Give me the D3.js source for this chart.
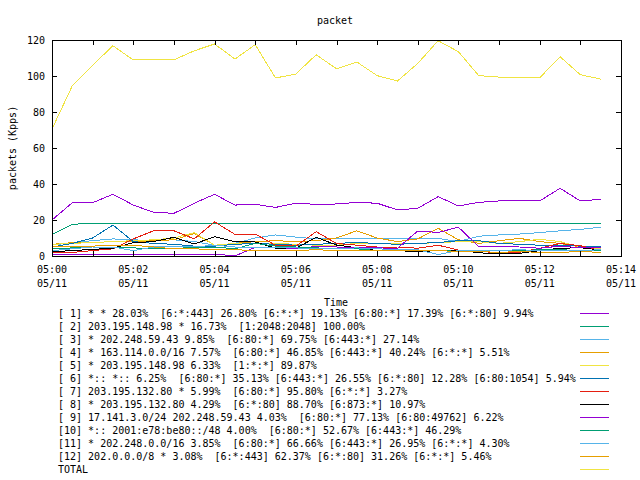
<!DOCTYPE html>
<html>
<head>
<meta charset="utf-8">
<script src="https://cdn.jsdelivr.net/npm/d3@7"></script>
<style>
html,body{margin:0;padding:0;background:#fff;}
svg text{font-family:"DejaVu Sans Mono",monospace;font-size:10px;fill:#000;white-space:pre;}
</style>
</head>
<body>
<svg id="chart" width="640" height="480"></svg>
<script>
const title = "packet";
const xLabel = "Time";
const yLabel = "packets (Kpps)";
const times = ["05:00:00","05:00:30","05:01:00","05:01:30","05:02:00","05:02:30","05:03:00","05:03:30",
  "05:04:00","05:04:30","05:05:00","05:05:30","05:06:00","05:06:30","05:07:00","05:07:30",
  "05:08:00","05:08:30","05:09:00","05:09:30","05:10:00","05:10:30","05:11:00","05:11:30",
  "05:12:00","05:12:30","05:13:00","05:13:30"];
const yTicks = [0,20,40,60,80,100,120];

const labels = [
  "[ 1] * * 28.03%  [6:*:443] 26.80% [6:*:*] 19.13% [6:80:*] 17.39% [6:*:80] 9.94%",
  "[ 2] 203.195.148.98 * 16.73%  [1:2048:2048] 100.00%",
  "[ 3] * 202.248.59.43 9.85%  [6:80:*] 69.75% [6:443:*] 27.14%",
  "[ 4] * 163.114.0.0/16 7.57%  [6:80:*] 46.85% [6:443:*] 40.24% [6:*:*] 5.51%",
  "[ 5] * 203.195.148.98 6.33%  [1:*:*] 89.87%",
  "[ 6] *:: *:: 6.25%  [6:80:*] 35.13% [6:443:*] 26.55% [6:*:80] 12.28% [6:80:1054] 5.94%",
  "[ 7] 203.195.132.80 * 5.99%  [6:80:*] 95.80% [6:*:*] 3.27%",
  "[ 8] * 203.195.132.80 4.29%  [6:*:80] 88.70% [6:873:*] 10.97%",
  "[ 9] 17.141.3.0/24 202.248.59.43 4.03%  [6:80:*] 77.13% [6:80:49762] 6.22%",
  "[10] *:: 2001:e78:be80::/48 4.00%  [6:80:*] 52.67% [6:443:*] 46.29%",
  "[11] * 202.248.0.0/16 3.85%  [6:80:*] 66.66% [6:443:*] 26.95% [6:*:*] 4.30%",
  "[12] 202.0.0.0/8 * 3.08%  [6:*:443] 62.37% [6:*:80] 31.26% [6:*:*] 5.46%",
  "TOTAL"
];
const colors = ["#9400d3","#009e73","#56b4e9","#e69f00","#f0e442","#0072b2","#e51e10","#000000",
  "#9400d3","#009e73","#56b4e9","#e69f00","#f0e442"];

const s1  = [20,29.6,29.6,34.3,28.3,24.3,23.7,29.3,34.3,28.3,28.7,27,29.3,28.7,28.9,29.8,29.3,25.6,26.5,33,27.8,29.8,30.6,30.7,30.6,37.6,30.6,31.5];
const s2  = [12,17.6,18.2,18.2,18,18,18,18,18.2,18.2,18,18,18,18,18.2,18,18,18,18,18,18,18,18,18,18,18,18,18];
const s3  = [6,7.5,8.5,9.5,9,8.5,9,8,6,7,10,11.7,10.5,9.5,9.8,9.8,9.5,9.8,9.8,9.8,8,11,11.7,12.2,13,14,14.8,16];
const s4  = [6.5,7.4,7.5,8,8,8.5,9,12.5,6,7,8,8.5,8,8.5,10,14,10,8,9.5,15.4,9,7,8.5,9.8,8,7,5,5];
const s5  = [6.5,7,7.5,8,8.5,9,10,13,6,7,7,7,6.5,6,6,7,7,7,7,7.4,8,8,7,8,9.3,8,5,4];
const s6  = [5,7,10,17.2,8,7,6.5,5.5,5.5,6.5,7,6.5,6,6.5,7,7.5,7,6.5,7,7.5,8.5,8.5,7,6.5,6,6,5.5,5.5];
const s7  = [2,2,3,4,9.5,14,14,9.5,19,12,12.2,6,5.5,13.5,7,6,5,5,4.3,6,3.3,2.4,2,2,4.3,7,5.7,3];
const s8  = [2.4,3,3.7,4.3,7.4,8,10.4,6.7,10.7,8,7.8,4.3,4.3,10.4,6.1,4.6,3,3,2.4,3,3.3,1.8,1.1,1.5,3,4.3,4.6,3.3];
const s9  = [0.8,0.8,0.8,0.8,0.8,1.1,1.1,1.1,1.1,0,4.8,4.6,4.3,5.2,5,4.6,4.5,4.3,13.9,13.1,16,5.2,5.2,5,4.3,5.5,4.6,4.8];
const s10 = [4,4.5,5,5,4.5,4,4,5,5,4,7,5.5,5,4.5,4,4,3,3.3,3,3.3,2.5,2.5,3,3,3.5,3.5,3,3];
const s11 = [3,4,5,5,3,5,5.5,5,6,5,5,5,4.5,4,4,4.5,4,3.5,3.5,0.8,3,3,3,3.5,3,3,3,3.5];
const s12 = [5,5.5,5.5,6,6,5,4,4,3.5,3.5,3,3,3,3.5,3,3,3,3,3,3,2.5,2.5,2,2.5,2,2,2.5,2];
const total = [70.5,94.6,106,116.8,108.9,109,109,114,117.8,109.4,117.4,98.9,101.1,111.8,104,107.8,100.2,97.2,107,119.6,113.5,100.2,99.4,99,99,110.7,100.7,98.3];

const seriesList = [s1,s2,s3,s4,s5,s6,s7,s8,s9,s10,s11,s12,total];

const svg = d3.select("#chart");
const L = 52, R = 621, T = 40, B = 256;
const parseT = t => { const [h,m,s] = t.split(":").map(Number); return new Date(Date.UTC(2024,4,11,h,m,s)); };
const x = d3.scaleUtc().domain([new Date(Date.UTC(2024,4,11,5,0,0)), new Date(Date.UTC(2024,4,11,5,14,0))]).range([L,R]);
const y = d3.scaleLinear().domain([0,120]).range([B,T]);

// lines
const line = d3.line().x((d,i)=>x(parseT(times[i]))).y(d=>y(d));
const g = svg.append("g");
seriesList.forEach((s,k)=>{
  g.append("path").datum(s).attr("d", line).attr("fill","none")
   .attr("stroke", colors[k]).attr("stroke-width",1).attr("shape-rendering","crispEdges");
});

// axes (ticks inward, mirrored)
const minuteTicks = x.ticks(d3.utcMinute.every(1));
const labelTicks = x.ticks(d3.utcMinute.every(2));
const axB = svg.append("g").attr("transform",`translate(0,${B})`)
  .call(d3.axisTop(x).tickValues(minuteTicks).tickSize(5).tickFormat(""));
const axT = svg.append("g").attr("transform",`translate(0,${T})`)
  .call(d3.axisBottom(x).tickValues(minuteTicks).tickSize(5).tickFormat(""));
const axL = svg.append("g").attr("transform",`translate(${L},0)`)
  .call(d3.axisRight(y).tickValues(yTicks).tickSize(5).tickFormat(""));
const axR = svg.append("g").attr("transform",`translate(${R},0)`)
  .call(d3.axisLeft(y).tickValues(yTicks).tickSize(5).tickFormat(""));
[axB,axT,axL,axR].forEach(a=>{ a.select(".domain").remove(); a.selectAll("line").attr("stroke","#000").attr("shape-rendering","crispEdges"); });

svg.append("rect").attr("x",L+0.5).attr("y",T+0.5).attr("width",R-L).attr("height",B-T)
  .attr("fill","none").attr("stroke","#000").attr("shape-rendering","crispEdges");

// tick labels
const fmtT = d3.utcFormat("%H:%M"), fmtD = d3.utcFormat("%m/%d");
labelTicks.forEach(t=>{
  svg.append("text").attr("x",x(t)).attr("y",269).attr("text-anchor","middle").attr("dominant-baseline","central").text(fmtT(t));
  svg.append("text").attr("x",x(t)).attr("y",283).attr("text-anchor","middle").attr("dominant-baseline","central").text(fmtD(t));
});
yTicks.forEach(v=>{
  svg.append("text").attr("x",45).attr("y",y(v)).attr("text-anchor","end").attr("dominant-baseline","central").text(v);
});

// titles
svg.append("text").attr("x",335).attr("y",20).attr("text-anchor","middle").attr("dominant-baseline","central").text(title);
svg.append("text").attr("x",336).attr("y",302).attr("text-anchor","middle").attr("dominant-baseline","central").text(xLabel);
svg.append("text").attr("transform","translate(12,148) rotate(-90)").attr("text-anchor","middle").attr("dominant-baseline","central").text(yLabel);

// legend
labels.forEach((lab,k)=>{
  const yy = 313 + 13*k;
  svg.append("text").attr("x",58).attr("y",yy).attr("dominant-baseline","central").text(lab);
  svg.append("line").attr("x1",580).attr("x2",609).attr("y1",yy+0.5).attr("y2",yy+0.5)
    .attr("stroke",colors[k]).attr("stroke-width",1).attr("shape-rendering","crispEdges");
});
</script>
</body>
</html>
